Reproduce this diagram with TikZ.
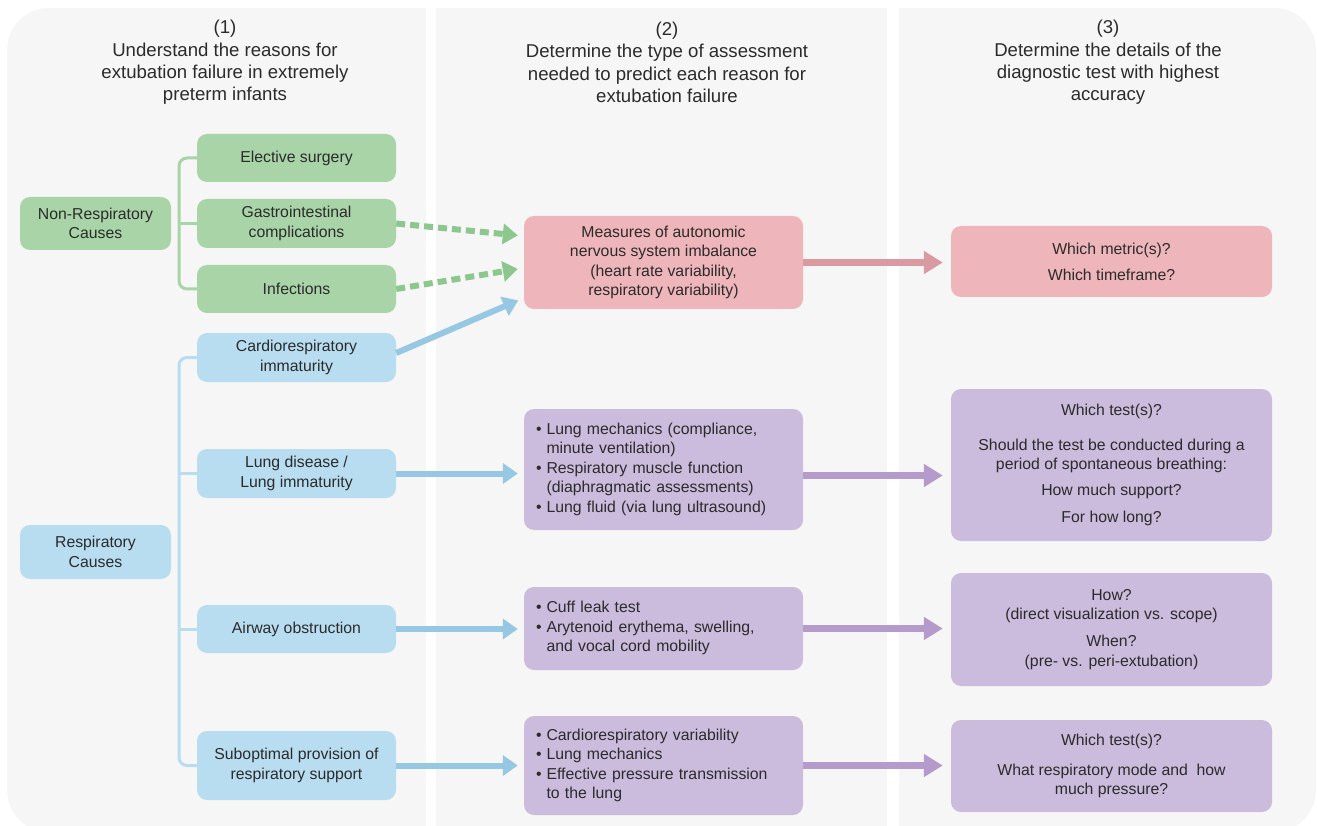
\documentclass[tikz,border=0pt]{standalone}
\usepackage{fontspec}
\setmainfont{Liberation Sans}
\usetikzlibrary{arrows.meta}

\definecolor{panelgrey}{HTML}{F6F6F6}
\definecolor{textgrey}{HTML}{2B2B2B}
\definecolor{greenbox}{HTML}{A8D4A8}
\definecolor{greenline}{HTML}{8CC78E}
\definecolor{bluebox}{HTML}{B8DDF0}
\definecolor{blueline}{HTML}{96C8E4}
\definecolor{pinkbox}{HTML}{EEB5BA}
\definecolor{pinkline}{HTML}{D99BA1}
\definecolor{purplebox}{HTML}{CBBBDC}
\definecolor{purpleline}{HTML}{B59BCB}

\tikzset{
  box/.style={rounded corners=10pt, inner sep=0pt, text=textgrey, align=center,
              font=\fontsize{15.8}{19.5}\selectfont},
  gbox/.style={box, fill=greenbox},
  bbox/.style={box, fill=bluebox},
  pbox/.style={box, fill=pinkbox},
  vbox/.style={box, fill=purplebox},
  listbox/.style={vbox, align=left, inner xsep=12pt, text width=255pt},
  head/.style={align=center, text=textgrey, font=\fontsize{18.6}{22.3}\selectfont},
  bracket/.style={line width=3pt, rounded corners=8pt},
  bigarrow/.style={line width=7pt, -{Triangle[length=19pt,width=22pt]}, shorten >=8pt},
  smallarrow/.style={line width=6pt, -{Triangle[length=15pt,width=20pt]}, shorten >=6pt},
  dasharrow/.style={smallarrow, dash pattern=on 9pt off 5pt}
}

\newcommand{\bitem}{\textbullet &}

\begin{document}
\begin{tikzpicture}[x=1pt,y=-1pt]

\useasboundingbox (0,0) rectangle (1317,826);

%% panels
\fill[panelgrey, rounded corners=42pt] (7,8) rectangle (1316,832);
\fill[white] (426,0) rectangle (436,826);
\fill[white] (887,0) rectangle (899,826);

%% column headings
\node[head] (head1) at (225,62.5)  {(1)\\Understand the reasons for\\extubation failure in extremely\\preterm infants};
\node[head] (head2) at (667,62.5)  {(2)\\Determine the type of assessment\\needed to predict each reason for\\extubation failure};
\node[head] (head3) at (1108,62.5) {(3)\\Determine the details of the\\diagnostic test with highest\\accuracy};

%% causes
\node[gbox, minimum width=151pt, minimum height=53pt] (nonresp) at (95.5,223.5) {Non-Respiratory\\Causes};
\node[gbox, minimum width=199pt, minimum height=48pt] (elective) at (296.5,158) {Elective surgery};
\node[gbox, minimum width=199pt, minimum height=49pt] (gastro) at (296.5,223.5) {Gastrointestinal\\complications};
\node[gbox, minimum width=199pt, minimum height=48pt] (infect) at (296.5,289) {Infections};

\node[bbox, minimum width=151pt, minimum height=54pt] (resp) at (95.5,552) {Respiratory\\Causes};
\node[bbox, minimum width=199pt, minimum height=49pt] (cardio) at (296.5,357.5) {Cardiorespiratory\\immaturity};
\node[bbox, minimum width=199pt, minimum height=49pt] (lungdis) at (296.5,473.5) {Lung disease /\\Lung immaturity};
\node[bbox, minimum width=199pt, minimum height=48pt] (airway) at (296.5,629) {Airway obstruction};
\node[bbox, minimum width=199pt, minimum height=69pt] (subopt) at (296.5,765.5) {Suboptimal provision of\\respiratory support};

%% assessments
\node[pbox, minimum width=279pt, minimum height=93pt] (autonomic) at (663.5,262.5)
  {Measures of autonomic\\nervous system imbalance\\(heart rate variability,\\respiratory variability)};
\node[listbox, minimum height=121pt] (lungmech) at (663.5,469.5)
  {\begin{tabular}{@{}l@{\hspace{5pt}}l@{}}
   \bitem Lung mechanics (compliance,\\ & minute ventilation)\\
   \bitem Respiratory muscle function\\ & (diaphragmatic assessments)\\
   \bitem Lung fluid (via lung ultrasound)
   \end{tabular}};
\node[listbox, minimum height=83pt] (cuff) at (663.5,628.5)
  {\begin{tabular}{@{}l@{\hspace{5pt}}l@{}}
   \bitem Cuff leak test\\
   \bitem Arytenoid erythema, swelling,\\ & and vocal cord mobility
   \end{tabular}};
\node[listbox, minimum height=99pt] (cardvar) at (663.5,765.5)
  {\begin{tabular}{@{}l@{\hspace{5pt}}l@{}}
   \bitem Cardiorespiratory variability\\
   \bitem Lung mechanics\\
   \bitem Effective pressure transmission\\ & to the lung
   \end{tabular}};

%% test details
\node[pbox, minimum width=321pt, minimum height=71pt] (metric) at (1111.5,261.5)
  {Which metric(s)?\\[6.5pt]Which timeframe?};
\node[vbox, minimum width=321pt, minimum height=152pt] (whichtest) at (1111.5,465)
  {Which test(s)?\\[15pt]Should the test be conducted during a\\period of spontaneous breathing:\\[6.5pt]How much support?\\[7.5pt]For how long?};
\node[vbox, minimum width=321pt, minimum height=113pt] (how) at (1111.5,629.5)
  {How?\\(direct visualization vs. scope)\\[7.5pt]When?\\(pre- vs. peri-extubation)};
\node[vbox, minimum width=321pt, minimum height=92pt] (pressure) at (1111.5,766)
  {Which test(s)?\\[10.5pt]What respiratory mode and\ \ how\\much pressure?};

%% brackets
\coordinate (gbar) at (179,0);
\coordinate (bbar) at (179,0);
\draw[bracket, greenbox] (elective.west) -| (gbar |- gastro.west) |- (infect.west);
\draw[bracket, greenbox] (gbar |- gastro.west) -- (gastro.west);
\draw[bracket, bluebox] (cardio.west) -| (bbar |- lungdis.west) |- (subopt.west);
\draw[bracket, bluebox] (bbar |- lungdis.west) -- (lungdis.west);
\draw[bracket, bluebox] (bbar |- airway.west) -- (airway.west);

%% arrows into column 2
\draw[dasharrow, greenline] (gastro.east) -- ([yshift=26.5pt]autonomic.west);
\draw[dasharrow, greenline] (infect.east) -- ([yshift=-5.5pt]autonomic.west);
\draw[smallarrow, blueline] ([yshift=4.5pt]cardio.east) -- ([yshift=-35.5pt]autonomic.west);
\draw[smallarrow, blueline] (lungdis.east) -- (lungdis.east -| lungmech.west);
\draw[smallarrow, blueline] (airway.east) -- (airway.east -| cuff.west);
\draw[smallarrow, blueline] (subopt.east) -- (subopt.east -| cardvar.west);

%% arrows into column 3
\draw[bigarrow, pinkline] (autonomic.east) -- (autonomic.east -| metric.west);
\draw[bigarrow, purpleline] ([yshift=-6pt]lungmech.east) -- ([yshift=-6pt]lungmech.east -| whichtest.west);
\draw[bigarrow, purpleline] (cuff.east) -- (cuff.east -| how.west);
\draw[bigarrow, purpleline] (cardvar.east) -- (cardvar.east -| pressure.west);

\end{tikzpicture}
\end{document}
